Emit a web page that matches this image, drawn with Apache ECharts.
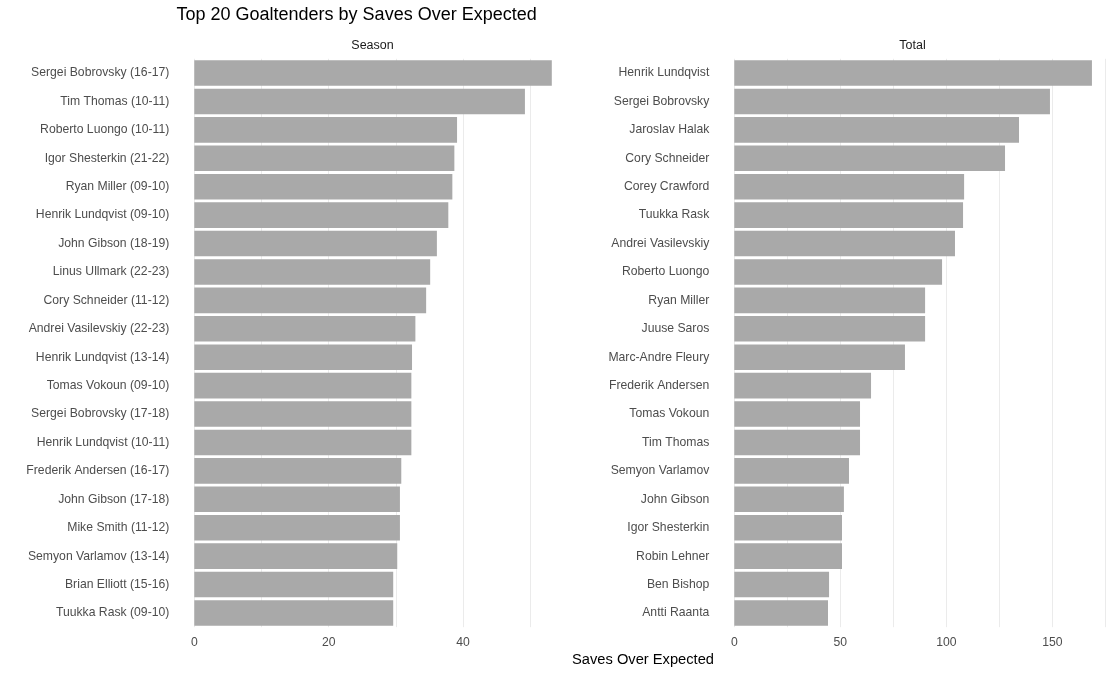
<!DOCTYPE html>
<html>
<head>
<meta charset="utf-8">
<script src="https://cdn.jsdelivr.net/npm/echarts@6/dist/echarts.min.js"></script>
<style>
html,body{margin:0;padding:0;background:#fff;}
#chart{width:1118px;height:674px;}
</style>
</head>
<body>
<div id="chart"></div>
<script>
const seasonNames = ["Sergei Bobrovsky (16-17)","Tim Thomas (10-11)","Roberto Luongo (10-11)","Igor Shesterkin (21-22)","Ryan Miller (09-10)","Henrik Lundqvist (09-10)","John Gibson (18-19)","Linus Ullmark (22-23)","Cory Schneider (11-12)","Andrei Vasilevskiy (22-23)","Henrik Lundqvist (13-14)","Tomas Vokoun (09-10)","Sergei Bobrovsky (17-18)","Henrik Lundqvist (10-11)","Frederik Andersen (16-17)","John Gibson (17-18)","Mike Smith (11-12)","Semyon Varlamov (13-14)","Brian Elliott (15-16)","Tuukka Rask (09-10)"];
const seasonValues = [53.2,49.2,39.1,38.7,38.4,37.8,36.1,35.1,34.5,32.9,32.4,32.3,32.3,32.3,30.8,30.6,30.6,30.2,29.6,29.6];
const totalNames = ["Henrik Lundqvist","Sergei Bobrovsky","Jaroslav Halak","Cory Schneider","Corey Crawford","Tuukka Rask","Andrei Vasilevskiy","Roberto Luongo","Ryan Miller","Juuse Saros","Marc-Andre Fleury","Frederik Andersen","Tomas Vokoun","Tim Thomas","Semyon Varlamov","John Gibson","Igor Shesterkin","Robin Lehner","Ben Bishop","Antti Raanta"];
const totalValues = [168.7,148.9,134.3,127.7,108.4,107.9,104.1,98.0,90.0,90.0,80.5,64.5,59.3,59.3,54.1,51.7,50.8,50.8,44.7,44.2];
const seasonTicks = [0,20,40];
const totalTicks = [0,50,100,150];

const FONT = "Liberation Sans, Arial, sans-serif";
const chart = echarts.init(document.getElementById('chart'));

const gridTop = 58.8, gridBottom = 46.8;
const leftMax = 55.86, rightMax = 177.1;
const pxLeft = 6.72, pxRight = 2.12;

function xAxisDef(idx, max, interval, ticks) {
  return {
    type: 'value', gridIndex: idx, min: 0, max: max, interval: interval,
    axisLine: {show: false}, axisTick: {show: false},
    axisLabel: {
      color: '#4d4d4d', fontSize: 12.2, fontFamily: FONT, margin: 9,
      showMaxLabel: false,
      formatter: v => ticks.indexOf(v) >= 0 ? String(v) : ''
    },
    splitLine: {show: true, showMaxLine: false, lineStyle: {color: '#ebebeb', width: 1}}
  };
}
function yAxisDef(idx, names) {
  return {
    type: 'category', gridIndex: idx, data: names, inverse: true,
    axisLine: {show: false}, axisTick: {show: false},
    axisLabel: {color: '#4d4d4d', fontSize: 12.2, fontFamily: FONT, margin: 25},
    splitLine: {show: false}
  };
}

chart.setOption({
  backgroundColor: '#ffffff',
  animation: false,
  grid: [
    {left: 194.3, top: gridTop, bottom: gridBottom, width: leftMax * pxLeft},
    {left: 734.3, top: gridTop, bottom: gridBottom, width: rightMax * pxRight}
  ],
  xAxis: [xAxisDef(0, leftMax, 10, seasonTicks), xAxisDef(1, rightMax, 25, totalTicks)],
  yAxis: [yAxisDef(0, seasonNames), yAxisDef(1, totalNames)],
  series: [
    {type: 'bar', xAxisIndex: 0, yAxisIndex: 0, data: seasonValues, barCategoryGap: '10%',
     itemStyle: {color: '#a9a9a9'}, silent: true},
    {type: 'bar', xAxisIndex: 1, yAxisIndex: 1, data: totalValues, barCategoryGap: '10%',
     itemStyle: {color: '#a9a9a9'}, silent: true}
  ],
  graphic: [
    {type: 'text', left: 176.5, top: 6, style: {text: 'Top 20 Goaltenders by Saves Over Expected', fontSize: 18, fontFamily: FONT, fill: '#000'}},
    {type: 'text', x: 372.5, y: 45.5, style: {text: 'Season', fontSize: 12.5, fontFamily: FONT, fill: '#1a1a1a', align: 'center', verticalAlign: 'middle'}},
    {type: 'text', x: 912.5, y: 45.5, style: {text: 'Total', fontSize: 12.5, fontFamily: FONT, fill: '#1a1a1a', align: 'center', verticalAlign: 'middle'}},
    {type: 'text', x: 643, y: 659.5, style: {text: 'Saves Over Expected', fontSize: 14.7, fontFamily: FONT, fill: '#000', align: 'center', verticalAlign: 'middle'}}
  ]
});
</script>
</body>
</html>
